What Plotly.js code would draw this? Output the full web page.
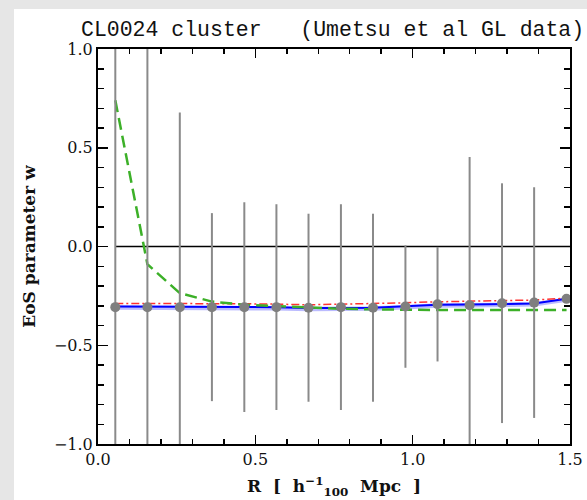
<!DOCTYPE html>
<html>
<head>
<meta charset="utf-8">
<script src="https://cdn.plot.ly/plotly-3.0.1.min.js"></script>
<style>
  html, body { margin: 0; padding: 0; background: #e6e6e6; width: 587px; height: 500px; overflow: hidden; }
  #chart { position: absolute; left: 14px; top: 9px; width: 573px; height: 491px; background: #ffffff; }
</style>
</head>
<body>
<div id="chart"></div>
<script>
// Radius bins R [h^-1_100 Mpc]
var R = [0.055, 0.157, 0.260, 0.362, 0.465, 0.567, 0.669, 0.772, 0.874, 0.977, 1.079, 1.181, 1.284, 1.386, 1.489];
// Measured EoS parameter w and its error
var wData = [-0.307, -0.307, -0.307, -0.307, -0.307, -0.307, -0.310, -0.307, -0.310, -0.304, -0.292, -0.297, -0.287, -0.284, -0.265];
var wErr  = [1.40, 1.40, 0.985, 0.476, 0.531, 0.521, 0.476, 0.521, 0.476, 0.31, 0.29, 0.75, 0.607, 0.584, 0.0];
// Model curves
var wBlue  = [-0.304, -0.304, -0.304, -0.305, -0.306, -0.308, -0.312, -0.312, -0.310, -0.303, -0.295, -0.294, -0.292, -0.289, -0.265];
var wBand  = [-0.309, -0.309, -0.309, -0.310, -0.311, -0.313, -0.316, -0.316, -0.314, -0.307, -0.299, -0.298, -0.296, -0.293, -0.269];
var wRed   = [-0.288, -0.288, -0.288, -0.289, -0.290, -0.292, -0.295, -0.292, -0.290, -0.285, -0.280, -0.277, -0.274, -0.271, -0.262];
var wGreen = [0.74, -0.09, -0.236, -0.279, -0.295, -0.302, -0.310, -0.315, -0.318, -0.321, -0.322, -0.322, -0.322, -0.322, -0.322];
// Reference line w = 0
var zeroX = [R[0], 1.5];
var zeroY = [0, 0];

var xTickVals = [0.0, 0.5, 1.0, 1.5];
var yTickVals = [-1.0, -0.5, 0.0, 0.5, 1.0];

var traces = [
  { x: zeroX, y: zeroY, mode: 'lines', line: { color: '#000000', width: 1.5 }, hoverinfo: 'skip' },
  { x: R, y: wBand, mode: 'lines', line: { color: 'rgba(120,120,255,0.5)', width: 4.5 } },
  { x: R, y: wBlue, mode: 'lines', line: { color: '#0000ff', width: 2 } },
  { x: R, y: wRed, mode: 'lines', line: { color: '#ff3030', width: 1.5, dash: '8px,3px,2px,3px' } },
  { x: R, y: wGreen, mode: 'lines', line: { color: '#3cb028', width: 2.5, dash: '12px,6px' } },
  { x: R, y: wData, mode: 'markers',
    marker: { color: '#7f7f7f', size: 10 },
    error_y: { type: 'data', array: wErr, visible: true, color: '#8a8a8a', thickness: 2, width: 0 } }
];

var tickFont = { family: 'DejaVu Serif', size: 16, color: '#111111' };
var titleFont = { family: 'DejaVu Serif', size: 17, color: '#111111', weight: 'bold' };

var layout = {
  width: 573, height: 491,
  paper_bgcolor: '#ffffff', plot_bgcolor: '#ffffff',
  showlegend: false,
  margin: { l: 84, r: 17.4, t: 39.5, b: 55.5, pad: 0 },
  title: {
    text: 'CL0024 cluster\u00a0\u00a0\u00a0(Umetsu et al GL data)',
    font: { family: 'Liberation Mono', size: 21.5, color: '#111111' },
    xref: 'paper', x: 0.497, xanchor: 'center',
    yref: 'container', y: 0.96, yanchor: 'middle'
  },
  xaxis: {
    range: [0, 1.5], tickvals: xTickVals, tickformat: '.1f',
    ticks: 'inside', ticklen: 9, tickwidth: 1.5, tickcolor: '#000',
    minor: { dtick: 0.1, tick0: 0, ticks: 'inside', ticklen: 5, tickwidth: 1.5, tickcolor: '#000' },
    showline: true, linecolor: '#000', linewidth: 2, mirror: 'ticks',
    showgrid: false, zeroline: false,
    tickfont: tickFont,
    title: { text: 'R\u00a0\u00a0[\u00a0\u00a0h<sup>\u22121</sup><sub>100</sub>\u00a0\u00a0Mpc\u00a0\u00a0]', font: titleFont, standoff: 12 }
  },
  yaxis: {
    range: [-1, 1], tickvals: yTickVals, tickformat: '.1f',
    ticks: 'inside', ticklen: 10, tickwidth: 1.5, tickcolor: '#000',
    minor: { dtick: 0.1, tick0: 0, ticks: 'inside', ticklen: 6, tickwidth: 1.5, tickcolor: '#000' },
    showline: true, linecolor: '#000', linewidth: 2, mirror: 'ticks',
    showgrid: false, zeroline: false,
    tickfont: tickFont,
    title: { text: 'EoS parameter w', font: titleFont, standoff: 14 }
  }
};

Plotly.newPlot('chart', traces, layout, { displayModeBar: false, staticPlot: true });
</script>
</body>
</html>
